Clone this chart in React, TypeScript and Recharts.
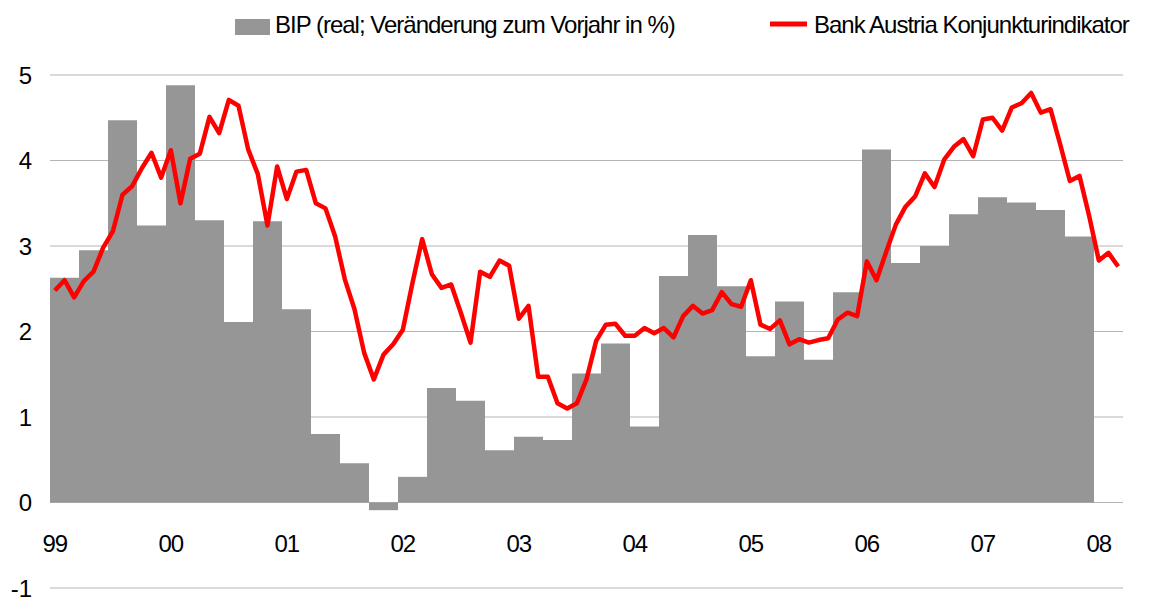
import React from "react";
import { ComposedChart, Bar, Line, XAxis, YAxis, CartesianGrid } from "recharts";

const FONT = "'Liberation Sans', Arial, sans-serif";

// quarterly GDP growth, 1999 Q1 .. 2007 Q4 (2008 Q1 has no bar yet)
const quarterLabels = [
  "99Q1", "99Q2", "99Q3", "99Q4", "00Q1", "00Q2", "00Q3", "00Q4",
  "01Q1", "01Q2", "01Q3", "01Q4", "02Q1", "02Q2", "02Q3", "02Q4",
  "03Q1", "03Q2", "03Q3", "03Q4", "04Q1", "04Q2", "04Q3", "04Q4",
  "05Q1", "05Q2", "05Q3", "05Q4", "06Q1", "06Q2", "06Q3", "06Q4",
  "07Q1", "07Q2", "07Q3", "07Q4", "08Q1",
];
const bip = [
  2.63, 2.95, 4.47, 3.24, 4.88, 3.3, 2.11, 3.29,
  2.26, 0.8, 0.46, -0.09, 0.3, 1.34, 1.19, 0.61,
  0.77, 0.73, 1.51, 1.86, 0.89, 2.65, 3.13, 2.53,
  1.71, 2.35, 1.67, 2.46, 4.13, 2.8, 3.0, 3.37,
  3.57, 3.51, 3.42, 3.11,
];

// monthly indicator, Jan 1999 .. Mar 2008
const indicator = [
  2.48, 2.6, 2.4, 2.59, 2.7, 2.98, 3.17, 3.6, 3.7, 3.91, 4.09, 3.8,
  4.12, 3.5, 4.02, 4.08, 4.51, 4.32, 4.71, 4.64, 4.13, 3.84, 3.24, 3.93,
  3.55, 3.87, 3.89, 3.5, 3.44, 3.11, 2.61, 2.26, 1.75, 1.44, 1.73, 1.85,
  2.02, 2.57, 3.08, 2.67, 2.51, 2.55, 2.22, 1.87, 2.7, 2.64, 2.83, 2.77,
  2.15, 2.3, 1.47, 1.47, 1.16, 1.1, 1.16, 1.44, 1.89, 2.08, 2.09, 1.95,
  1.95, 2.04, 1.98, 2.04, 1.93, 2.18, 2.3, 2.21, 2.25, 2.46, 2.32, 2.29,
  2.6, 2.08, 2.03, 2.13, 1.85, 1.91, 1.87, 1.9, 1.92, 2.14, 2.22, 2.18,
  2.82, 2.6, 2.93, 3.25, 3.46, 3.58, 3.85, 3.69, 4.01, 4.16, 4.25, 4.05,
  4.48, 4.5, 4.35, 4.62, 4.67, 4.79, 4.56, 4.6, 4.19, 3.76, 3.82, 3.35,
  2.83, 2.92, 2.76,
];

const yearLabels = ["99", "00", "01", "02", "03", "04", "05", "06", "07", "08"];
const yTicks = [-1, 0, 1, 2, 3, 4, 5];

const quarterData = quarterLabels.map((q, i) => ({ q, bip: i < bip.length ? bip[i] : null }));
const monthData = indicator.map((v, i) => ({ x: i + 0.5, ind: v }));
const yearTicks = yearLabels.map((_, i) => i * 12 + 0.5);

const W = 1165;
const H = 598;
const TOP = 75;
const BOTTOM = 588;
// year labels sit halfway between the 0 and -1 gridlines
const LABEL_BASELINE = TOP + ((5 + 0.5) / 6) * (BOTTOM - TOP) + 7;

const YearTick = (props: any) => {
  const { x, payload } = props;
  const idx = Math.round((payload.value - 0.5) / 12);
  return (
    <text
      x={x}
      y={LABEL_BASELINE}
      textAnchor="middle"
      fill="#000"
      fontSize={24}
      fontFamily={FONT}
      style={{ letterSpacing: -1 }}
    >
      {yearLabels[idx]}
    </text>
  );
};

const tickStyle = { fill: "#000", fontSize: 24, fontFamily: FONT };

export default function App() {
  return (
    <div style={{ position: "absolute", left: 0, top: 0, width: W, height: H, background: "#fff" }}>
      <svg width={W} height={50} style={{ position: "absolute", left: 0, top: 0 }}>
        <rect x={235} y={19} width={35} height={16} fill="#969696" />
        <text x={275} y={33} fontSize={24} fontFamily={FONT} fill="#000" style={{ letterSpacing: -1 }}>
          BIP (real; Veränderung zum Vorjahr in %)
        </text>
        <line x1={770} y1={24} x2={807} y2={24} stroke="#ff0000" strokeWidth={5} />
        <text x={814} y={33} fontSize={24} fontFamily={FONT} fill="#000" style={{ letterSpacing: -1 }}>
          Bank Austria Konjunkturindikator
        </text>
      </svg>
      <ComposedChart
        width={W}
        height={H}
        data={quarterData}
        barCategoryGap={0}
        margin={{ top: TOP, right: 0, bottom: 0, left: 0 }}
      >
        <CartesianGrid yAxisId="l" xAxisId="m" vertical={false} stroke="#b4b4b4" />
        <XAxis xAxisId="q" dataKey="q" type="category" hide />
        <XAxis
          xAxisId="m"
          dataKey="x"
          type="number"
          domain={[0, indicator.length]}
          allowDataOverflow
          ticks={yearTicks}
          tick={<YearTick />}
          axisLine={false}
          tickLine={false}
          height={H - BOTTOM}
          interval={0}
        />
        <YAxis
          yAxisId="l"
          orientation="left"
          width={50}
          domain={[-1, 5]}
          ticks={yTicks}
          axisLine={false}
          tickLine={false}
          tickSize={0}
          tickMargin={18}
          tick={tickStyle}
          interval={0}
        />
        <YAxis
          yAxisId="r"
          orientation="right"
          width={W - 1123}
          domain={[-1, 5]}
          ticks={yTicks}
          axisLine={false}
          tickLine={false}
          tickSize={0}
          tickMargin={17}
          tick={tickStyle}
          interval={0}
        />
        <Bar xAxisId="q" yAxisId="l" dataKey="bip" fill="#969696" isAnimationActive={false} />
        <Line
          xAxisId="m"
          yAxisId="l"
          data={monthData}
          dataKey="ind"
          type="linear"
          stroke="#ff0000"
          strokeWidth={4.5}
          strokeLinejoin="round"
          dot={false}
          isAnimationActive={false}
        />
      </ComposedChart>
    </div>
  );
}
